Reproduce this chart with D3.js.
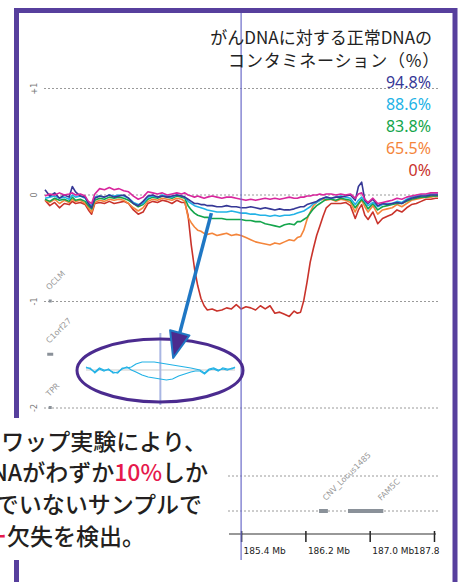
<!DOCTYPE html>
<html lang="ja">
<head>
<meta charset="UTF-8">
<title>Contamination CNV</title>
<script src="https://cdn.jsdelivr.net/npm/d3@7/dist/d3.min.js"></script>
<style>
  body { margin: 0; background: #fff; }
  svg { display: block; }
</style>
</head>
<body>
<svg id="chart" width="461" height="582"></svg>
<script>
// genomic positions (Mb), shared by every sample
var positions = [182.96,183.02,183.08,183.14,183.20,183.26,183.30,183.34,183.40,183.46,
  183.50,183.54,183.58,183.64,183.70,183.76,183.82,183.88,183.94,184.00,
  184.06,184.12,184.18,184.24,184.30,184.36,184.42,184.48,184.54,184.60,
  184.66,184.70,184.74,184.78,184.82,184.86,184.90,184.94,184.98,185.04,
  185.10,185.16,185.22,185.28,185.34,185.40,185.46,185.52,185.58,185.64,
  185.70,185.76,185.82,185.88,185.94,186.00,186.06,186.10,186.14,186.18,
  186.22,186.26,186.30,186.34,186.38,186.42,186.46,186.52,186.58,186.64,
  186.70,186.76,186.82,186.86,186.90,186.94,186.98,187.04,187.10,187.16,
  187.22,187.28,187.34,187.40,187.46,187.52,187.58,187.64,187.70,187.76,
  187.82,187.85];

// log2 ratios per sample
var red0 = [-0.05,-0.10,-0.07,-0.12,-0.08,-0.09,-0.06,-0.08,-0.07,-0.09,
  -0.14,-0.18,-0.08,-0.07,-0.08,-0.06,-0.08,-0.07,-0.06,-0.08,
  -0.14,-0.18,-0.16,-0.08,-0.06,-0.07,-0.05,-0.06,-0.08,-0.05,
  -0.07,-0.07,-0.19,-0.47,-0.69,-0.85,-0.97,-1.04,-1.08,-1.07,
  -1.09,-1.08,-1.06,-1.07,-1.03,-1.07,-1.05,-1.06,-1.08,-1.04,
  -1.07,-1.04,-1.11,-1.10,-1.12,-1.14,-1.09,-1.11,-1.10,-0.99,
  -0.82,-0.63,-0.50,-0.38,-0.29,-0.20,-0.12,-0.08,-0.08,-0.08,
  -0.07,-0.10,-0.22,-0.14,-0.09,-0.19,-0.23,-0.16,-0.27,-0.22,
  -0.20,-0.18,-0.14,-0.16,-0.12,-0.09,-0.08,-0.06,-0.04,-0.04,
  -0.03,-0.03];
var orange655 = [-0.05,-0.07,-0.04,-0.08,-0.05,-0.07,-0.04,-0.06,-0.05,-0.08,
  -0.12,-0.16,-0.07,-0.05,-0.06,-0.04,-0.05,-0.04,-0.05,-0.08,
  -0.12,-0.15,-0.12,-0.06,-0.04,-0.05,-0.03,-0.04,-0.05,-0.03,
  -0.04,-0.06,-0.21,-0.26,-0.30,-0.33,-0.34,-0.36,-0.37,-0.36,
  -0.38,-0.37,-0.36,-0.38,-0.37,-0.38,-0.40,-0.42,-0.44,-0.45,
  -0.46,-0.47,-0.45,-0.46,-0.44,-0.42,-0.43,-0.40,-0.39,-0.33,
  -0.23,-0.16,-0.10,-0.07,-0.05,-0.04,-0.05,-0.04,-0.06,-0.04,
  -0.05,-0.07,-0.16,-0.09,-0.05,-0.11,-0.16,-0.10,-0.18,-0.14,
  -0.13,-0.12,-0.09,-0.11,-0.08,-0.05,-0.04,-0.03,-0.02,-0.02,
  -0.01,-0.01];
var green838 = [-0.04,-0.06,-0.03,-0.05,-0.04,-0.06,-0.02,-0.05,-0.04,-0.06,
  -0.10,-0.13,-0.05,-0.03,-0.04,-0.02,-0.03,-0.02,-0.03,-0.05,
  -0.08,-0.11,-0.09,-0.04,-0.02,-0.03,-0.01,-0.02,-0.03,-0.01,
  -0.02,-0.03,-0.10,-0.14,-0.17,-0.19,-0.20,-0.21,-0.21,-0.22,
  -0.22,-0.22,-0.23,-0.23,-0.23,-0.23,-0.24,-0.24,-0.25,-0.25,
  -0.27,-0.28,-0.29,-0.30,-0.28,-0.27,-0.28,-0.25,-0.25,-0.23,
  -0.21,-0.17,-0.13,-0.10,-0.08,-0.06,-0.04,-0.04,-0.05,-0.03,
  -0.04,-0.05,-0.12,-0.08,-0.04,-0.08,-0.13,-0.08,-0.14,-0.11,
  -0.10,-0.09,-0.08,-0.08,-0.06,-0.04,-0.03,-0.02,-0.02,-0.01,
  -0.01,-0.01];
var cyan886 = [-0.03,-0.02,-0.01,-0.03,-0.02,-0.04,0,-0.02,-0.01,-0.03,
  -0.08,-0.10,-0.02,-0.01,-0.02,0,-0.01,0,-0.01,-0.03,
  -0.07,-0.09,-0.08,-0.02,-0.01,-0.02,0,-0.01,-0.02,0,
  -0.01,-0.02,-0.06,-0.08,-0.10,-0.11,-0.12,-0.13,-0.14,-0.15,
  -0.16,-0.16,-0.16,-0.15,-0.16,-0.17,-0.17,-0.18,-0.18,-0.19,
  -0.19,-0.20,-0.19,-0.20,-0.19,-0.19,-0.18,-0.17,-0.16,-0.15,
  -0.13,-0.11,-0.08,-0.07,-0.05,-0.03,-0.02,-0.03,-0.02,-0.01,
  -0.02,-0.03,-0.09,-0.05,-0.02,-0.06,-0.10,-0.07,-0.11,-0.09,
  -0.08,-0.08,-0.06,-0.07,-0.04,-0.02,-0.01,0,0,0.01,
  0.01,0.01];
var navy948 = [0.05,-0.01,0.02,-0.03,0,-0.02,0.08,0.03,-0.01,-0.02,
  -0.08,-0.12,-0.03,-0.01,-0.02,0,-0.02,-0.01,0,-0.03,
  -0.08,-0.10,-0.06,-0.01,0,-0.02,-0.01,-0.02,-0.01,0,
  -0.01,-0.02,-0.04,-0.06,-0.08,-0.08,-0.09,-0.09,-0.10,-0.10,
  -0.11,-0.11,-0.10,-0.11,-0.11,-0.12,-0.12,-0.11,-0.12,-0.13,
  -0.12,-0.13,-0.14,-0.13,-0.14,-0.14,-0.13,-0.12,-0.11,-0.11,
  -0.09,-0.08,-0.07,-0.06,-0.04,-0.03,-0.02,-0.03,-0.02,-0.02,
  -0.01,0,-0.05,0.08,0.12,-0.05,-0.08,-0.04,-0.10,-0.08,
  -0.09,-0.08,-0.07,-0.08,-0.05,-0.03,-0.02,-0.01,-0.01,0,
  0,0];
var magentaRef = [-0.01,0.01,0,0.02,0,0.01,0.02,0,0.01,-0.01,
  -0.06,-0.08,0.01,0.06,0.05,0.07,0.05,0.06,0.04,0.03,
  -0.01,-0.04,-0.02,0.03,0.02,0.01,0.02,0,0.01,0.02,
  0.01,0.02,0,-0.01,-0.02,-0.01,-0.02,-0.03,-0.02,-0.01,
  -0.02,-0.03,-0.02,-0.02,-0.03,-0.04,-0.05,-0.04,-0.05,-0.04,
  -0.03,-0.04,-0.03,-0.04,-0.03,-0.02,-0.03,-0.03,-0.02,-0.02,
  -0.01,-0.01,0,0,0.01,0,0.01,0.01,0,0.01,
  0,0.01,-0.03,0.01,0.02,-0.04,-0.07,-0.03,-0.08,-0.07,
  -0.06,-0.05,-0.03,-0.04,-0.02,-0.01,0,0.01,0.01,0.02,
  0.02,0.02];

// small dye-swap inset inside the ellipse
var insetPositions = [182.96,183.10,183.25,183.40,183.55,183.70,183.85,184.00,184.15,184.30,
  184.45,184.60,184.80,185.00,185.20,185.40,185.60,185.80,186.00,186.20,
  186.40,186.55,186.70,186.85,187.00,187.15,187.30,187.45,187.60,187.75,
  187.85];
var insetUpper = [0.12,0.04,-0.08,0.08,0,0,-0.08,-0.12,0.08,0.08,
  0.12,0.24,0.32,0.32,0.32,0.28,0.24,0.20,0.16,0.12,
  0.08,0.04,0,-0.12,0.04,0.08,0,0.04,0,0.08,
  0.08];
var insetLower = [0.08,0.08,-0.12,0.04,-0.04,0.04,-0.12,-0.08,0.04,0.12,
  0,-0.08,-0.20,-0.28,-0.32,-0.36,-0.40,-0.36,-0.24,-0.16,
  -0.08,-0.04,-0.04,-0.16,0,0.04,-0.04,0.08,0.04,0.04,
  0.12];

var legendLabels = ["94.8%", "88.6%", "83.8%", "65.5%", "0%"];
var legendColors = ["#363896", "#22b2e6", "#14a54c", "#f4853b", "#c9332b"];
var yTicks = [1, 0, -1, -2];
var yTickLabels = ["+1", "0", "-1", "-2"];
var xTicks = [185.4, 186.2, 187.0, 187.8];
var leftGenes = [{name: "OCLM", pos: 183.0, v: -1, w: 3},
                 {name: "C1orf27", pos: 183.0, v: -1.5, w: 6},
                 {name: "TPR", pos: 183.0, v: -2, w: 3}];
var genes = [{name: "CNV_Locus1485", start: 186.37, end: 186.48},
             {name: "FAM5C", start: 186.73, end: 187.17}];

var svg = d3.select("#chart");
var purple = "#573f9d";

var x = d3.scaleLinear().domain([182.96, 187.85]).range([45, 438]);
var y = d3.scaleLinear().domain([1, -2]).range([88.5, 408]);
var trackY = d3.scalePoint().domain(["cnv", "gene"]).range([476, 511]);

// frame
svg.append("rect").attr("x", 16.5).attr("y", 10.5).attr("width", 438.5).attr("height", 620)
  .attr("fill", "none").attr("stroke", purple).attr("stroke-width", 5);

// grid
svg.append("g").selectAll("line").data(yTicks).enter().append("line")
  .attr("x1", 44).attr("x2", 438)
  .attr("y1", d => y(d)).attr("y2", d => y(d))
  .attr("stroke", "#9a9a9a").attr("stroke-width", 1).attr("stroke-dasharray", "2,2");
svg.append("g").selectAll("line").data(trackY.domain()).enter().append("line")
  .attr("x1", 44).attr("x2", 438)
  .attr("y1", d => trackY(d)).attr("y2", d => trackY(d))
  .attr("stroke", "#9a9a9a").attr("stroke-width", 1).attr("stroke-dasharray", "2,2");

svg.append("g").selectAll("text").data(yTicks).enter().append("text")
  .attr("transform", d => "translate(37," + y(d) + ") rotate(-90)")
  .attr("text-anchor", "middle")
  .style("font-family", "DejaVu Sans").style("font-size", "8px").attr("fill", "#777")
  .text((d, i) => yTickLabels[i]);

// gene markers on the left
var lg = svg.append("g");
lg.selectAll("rect").data(leftGenes).enter().append("rect")
  .attr("x", d => x(d.pos) + 2 - d.w / 2).attr("y", d => y(d.v) - 2)
  .attr("width", d => d.w).attr("height", 3).attr("fill", "#8a9199");
lg.selectAll("text").data(leftGenes).enter().append("text")
  .attr("transform", d => "translate(" + (x(d.pos) + 1) + "," + (y(d.v) - 11) + ") rotate(-45)")
  .style("font-family", "DejaVu Sans").style("font-size", "8px").attr("fill", "#999")
  .text(d => d.name);

// sample lines
var line = d3.line().x((d, i) => x(positions[i])).y(d => y(d));
var series = [
  {vals: red0, color: "#c9332b"},
  {vals: orange655, color: "#f4853b"},
  {vals: green838, color: "#14a54c"},
  {vals: cyan886, color: "#22b2e6"},
  {vals: navy948, color: "#363896"},
  {vals: magentaRef, color: "#d8279d"}
];
svg.append("g").selectAll("path").data(series).enter().append("path")
  .attr("d", d => line(d.vals))
  .attr("fill", "none").attr("stroke", d => d.color).attr("stroke-width", 1.6)
  .attr("stroke-linejoin", "round");

// genes track
var gg = svg.append("g");
gg.selectAll("rect").data(genes).enter().append("rect")
  .attr("x", d => x(d.start)).attr("width", d => x(d.end) - x(d.start))
  .attr("y", trackY("gene") - 2).attr("height", 4).attr("fill", "#8a9199");
gg.selectAll("text").data(genes).enter().append("text")
  .attr("transform", d => "translate(" + (x(d.end) - 2) + "," + (trackY("gene") - 10) + ") rotate(-45)")
  .style("font-family", "DejaVu Sans").style("font-size", "8px").attr("fill", "#999")
  .text(d => d.name);

// x axis
var axis = svg.append("g").attr("transform", "translate(0,534)")
  .call(d3.axisBottom(x).tickValues(xTicks).tickSize(8)
    .tickFormat(d => d === 187.8 ? "187.8" : d.toFixed(1) + " Mb"));
axis.select(".domain").remove();
axis.append("line").attr("x1", 229).attr("x2", 436).attr("stroke", "#333").attr("stroke-width", 1.2);
axis.selectAll(".tick line").attr("y1", -3).attr("y2", 8).attr("stroke", "#222").attr("stroke-width", 1.5);
axis.selectAll(".tick text").attr("text-anchor", "start").attr("x", 2).attr("y", 14)
  .style("font-family", "DejaVu Sans").style("font-size", "9px").attr("fill", "#222");
axis.selectAll(".tick text").filter(d => d === 187.8).attr("text-anchor", "end").attr("x", 5);

// cursor line
svg.append("line").attr("x1", x(185.4)).attr("x2", x(185.4)).attr("y1", 13).attr("y2", 560)
  .attr("stroke", "#6a6ac8").attr("stroke-width", 1.2);

// title and legend
var title = svg.append("g").style("font-family", "'Noto Sans CJK JP'").attr("fill", "#222");
title.append("text").attr("x", 432).attr("y", 44).attr("text-anchor", "end")
  .style("font-size", "17px").text("がんDNAに対する正常DNAの");
title.append("text").attr("x", 440).attr("y", 67).attr("text-anchor", "end")
  .style("font-size", "17px").style("letter-spacing", "0.8px").text("コンタミネーション（%）");
svg.append("g").selectAll("text").data(legendLabels).enter().append("text")
  .attr("x", 431).attr("y", (d, i) => 88 + i * 22).attr("text-anchor", "end")
  .style("font-family", "'Noto Sans'").style("font-size", "16px")
  .attr("fill", (d, i) => legendColors[i]).text(d => d);

// inset in ellipse
var ix = d3.scaleLinear().domain([182.96, 187.85]).range([86, 235]);
var iy = d3.scaleLinear().domain([-1, 1]).range([395, 345]);
var inset = svg.append("g");
inset.append("line").attr("x1", 86).attr("x2", 235).attr("y1", iy(0)).attr("y2", iy(0))
  .attr("stroke", "#dcdcdc").attr("stroke-width", 1.5);
inset.append("line").attr("x1", ix(185.4)).attr("x2", ix(185.4)).attr("y1", 333).attr("y2", 405)
  .attr("stroke", "#a9b6e3").attr("stroke-width", 2);
var iline = d3.line().x((d, i) => ix(insetPositions[i])).y(d => iy(d));
inset.selectAll("path.il").data([insetUpper, insetLower]).enter().append("path")
  .attr("class", "il").attr("d", iline)
  .attr("fill", "none").attr("stroke", "#22b2e6").attr("stroke-width", 1.2);
inset.append("ellipse").attr("cx", 160).attr("cy", 370.5).attr("rx", 83).attr("ry", 31.5)
  .attr("fill", "none").attr("stroke", "#4b2b8f").attr("stroke-width", 3);

// arrow from the 88.6% trace down to the inset
var a0 = [x(185.03), y(-0.17)];
var a1 = [ix(185.82), iy(0.48)];
var dx = a1[0] - a0[0], dy = a1[1] - a0[1], len = Math.sqrt(dx * dx + dy * dy);
var ux = dx / len, uy = dy / len;
var head = 26, hw = 10;
var bx = a1[0] - ux * head, by = a1[1] - uy * head;
svg.append("line").attr("x1", a0[0]).attr("y1", a0[1]).attr("x2", bx).attr("y2", by)
  .attr("stroke", "#1f77c4").attr("stroke-width", 3.5);
svg.append("path")
  .attr("d", "M" + a1[0] + "," + a1[1] + "L" + (bx - uy * hw) + "," + (by + ux * hw) +
    "L" + (bx + uy * hw) + "," + (by - ux * hw) + "Z")
  .attr("fill", "#4b2b8f").attr("stroke", "#1f77c4").attr("stroke-width", 2)
  .attr("stroke-linejoin", "round");

// callout text box
svg.append("rect").attr("x", 0).attr("y", 418).attr("width", 228).attr("height", 142).attr("fill", "#fff");
var note = svg.append("g").style("font-family", "'Noto Sans CJK JP'").style("font-size", "23px")
  .style("font-weight", 500).attr("fill", "#231f20").attr("text-anchor", "end");
note.append("text").attr("x", 207).attr("y", 450).text("ダイスワップ実験により、");
var t2 = note.append("text").attr("x", 208).attr("y", 481);
t2.append("tspan").text("がんDNAがわずか");
t2.append("tspan").attr("fill", "#e6194c").text("10%");
t2.append("tspan").text("しか");
note.append("text").attr("x", 202).attr("y", 513).text("含んでいないサンプルで");
var t4 = note.append("text").attr("x", 145).attr("y", 545);
t4.append("tspan").attr("fill", "#e6194c").text("1コピー");
t4.append("tspan").text("欠失を検出。");
</script>
</body>
</html>
